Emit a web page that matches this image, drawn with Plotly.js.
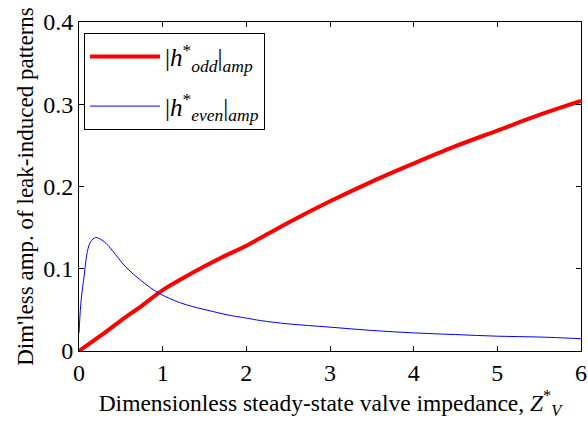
<!DOCTYPE html>
<html>
<head>
<meta charset="utf-8">
<script src="https://cdn.plot.ly/plotly-3.0.1.min.js"></script>
<style>html,body{margin:0;padding:0;background:#fff;}#chart{width:588px;height:427px;}</style>
</head>
<body>
<div id="chart"></div>
<script>
const oddX = [0,0.25,0.5,0.75,1,1.25,1.5,1.75,2,2.5,3,3.5,4,4.5,5,5.5,6];
const oddY = [0,0.018,0.037,0.055,0.074,0.089,0.103,0.116,0.128,0.156,0.182,0.206,0.228,0.249,0.268,0.287,0.304];
const evenX = [0,0.02,0.04,0.06,0.1,0.14,0.2,0.3,0.4,0.56,0.75,0.96,1.2,1.36,1.6,1.77,2,2.17,2.5,3,3.5,4,4.5,5,5.5,6];
const evenY = [0.022,0.055,0.075,0.09,0.121,0.133,0.138,0.133,0.122,0.102,0.085,0.07,0.059,0.054,0.048,0.044,0.04,0.037,0.033,0.029,0.025,0.022,0.02,0.018,0.017,0.015];
const xTicks = [0,1,2,3,4,5,6];
const yTicks = [0,0.1,0.2,0.3,0.4];
const yTickText = ['0','0.1','0.2','0.3','0.4'];

const font = 'Liberation Serif';
const traces = [
  {x: oddX, y: oddY, mode: 'lines', line: {color: '#ff0000', width: 4, shape: 'spline'}, legendgroup: 'a',
   name: '|<i>h</i><sup>*</sup><sub><i>odd</i></sub>|<sub><i>amp</i></sub>'},
  {x: evenX, y: evenY, mode: 'lines', line: {color: '#0000ff', width: 1, shape: 'spline'}, legendgroup: 'b',
   name: '|<i>h</i><sup>*</sup><sub><i>even</i></sub>|<sub><i>amp</i></sub>'}
];
const layout = {
  width: 588, height: 427,
  margin: {l: 79, r: 7, t: 22, b: 76},
  paper_bgcolor: '#fff', plot_bgcolor: '#fff',
  font: {family: font, size: 24, color: '#000'},
  showlegend: true,
  legend: {x: 0.01, y: 0.967, xanchor: 'left', yanchor: 'top', bordercolor: '#000', borderwidth: 1,
           bgcolor: '#fff', font: {family: font, size: 25, color: '#000'}, tracegroupgap: 14, itemwidth: 70},
  xaxis: {range: [0, 6], tickvals: xTicks, ticks: 'inside', ticklen: 5, tickcolor: '#000',
          showline: true, linecolor: '#000', linewidth: 1, mirror: 'ticks', showgrid: false, zeroline: false,
          tickfont: {family: font, size: 24, color: '#000'},
          title: {text: 'Dimensionless steady-state valve impedance, <i>Z</i><sup>*</sup><sub><i>V</i></sub>',
                  font: {family: font, size: 23.5, color: '#000'}, standoff: 5}},
  yaxis: {range: [0, 0.4], tickvals: yTicks, ticktext: yTickText, ticks: 'inside', ticklen: 5, tickcolor: '#000',
          showline: true, linecolor: '#000', linewidth: 1, mirror: 'ticks', showgrid: false, zeroline: false,
          tickfont: {family: font, size: 24, color: '#000'},
          title: {text: "Dim'less amp. of leak-induced patterns", font: {family: font, size: 23, color: '#000'}, standoff: 3}}
};
Plotly.newPlot('chart', traces, layout, {displayModeBar: false, staticPlot: true});
</script>
</body>
</html>
